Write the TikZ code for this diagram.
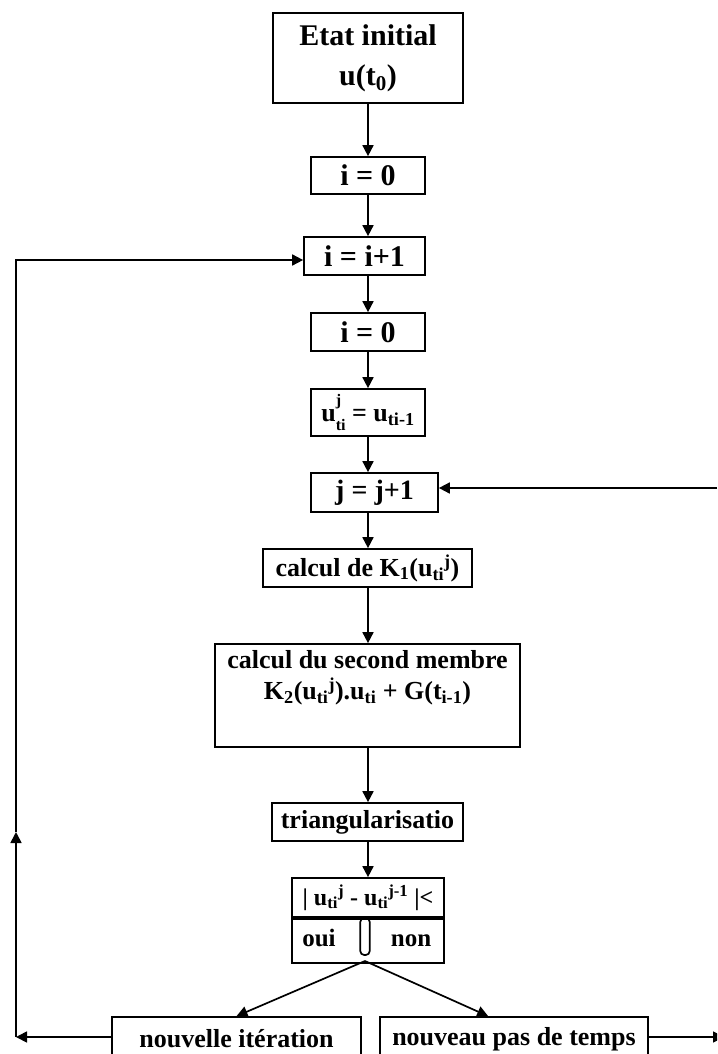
\documentclass[tikz,border=0pt]{standalone}
\usepackage{fontspec}
\setmainfont{Liberation Serif}
\usetikzlibrary{arrows.meta}
\newcommand{\stackscr}[2]{\rlap{\raisebox{0.62em}{\scalebox{0.62}{#1}}}\raisebox{-0.32em}{\scalebox{0.62}{#2}}}

\begin{document}
\begin{tikzpicture}[x=1pt, y=-1pt, line width=1.7pt,
  box/.style={draw, align=center, inner sep=2pt, font=\fontsize{26}{31}\selectfont\bfseries},
  big/.style={font=\fontsize{30}{40}\selectfont\bfseries},
  arr/.style={-{Triangle[length=11pt,width=11pt]}}]
  \useasboundingbox (0,0) rectangle (717,1054);
  % main column
  \node[box, big, minimum width=190, minimum height=90] (etat) at (368,58) {Etat initial\\u(t\textsubscript{0})};
  \node[box, big, minimum width=114, minimum height=37] (izero) at (368,175.5) {i = 0};
  \node[box, big, minimum width=121, minimum height=38] (iinc) at (364.5,256) {i = i+1};
  \node[box, big, minimum width=114, minimum height=38] (jzero) at (368,332) {i = 0};
  \node[box, minimum width=114, minimum height=47] (uinit) at (368,412.5) {u\stackscr{j}{ti} = u\textsubscript{ti-1}};
  \node[box, font=\fontsize{28}{34}\selectfont\bfseries, minimum width=127, minimum height=39] (jinc) at (374.5,492.5) {j = j+1};
  \node[box, minimum width=209, minimum height=38] (kone) at (367.5,568) {calcul de K\textsubscript{1}(u\textsubscript{ti}\textsuperscript{j})};
  \node[box, minimum width=305, minimum height=103] (membre) at (367.5,695.5) {};
  \node[align=center, font=\fontsize{26}{31}\selectfont\bfseries, anchor=north, inner sep=0pt] (membretxt) at (367.5,650)
    {calcul du second membre\\K\textsubscript{2}(u\textsubscript{ti}\textsuperscript{j}).u\textsubscript{ti} + G(t\textsubscript{i-1})};
  \node[box, minimum width=191, minimum height=38] (triang) at (367.5,822) {triangularisatio};
  % test box
  \node[box, font=\fontsize{24}{29}\selectfont\bfseries, minimum width=152, minimum height=39] (dtop) at (368,897.5)
    {| u\textsubscript{ti}\textsuperscript{j} - u\textsubscript{ti}\textsuperscript{j-1} |<};
  \node[box, minimum width=152, minimum height=44, anchor=north] (dbot) at (dtop.south) {};
  \node[font=\fontsize{25}{30}\selectfont\bfseries, anchor=base] (oui) at (319,946) {oui};
  \node[font=\fontsize{25}{30}\selectfont\bfseries, anchor=base] (non) at (411,946) {non};
  \node[draw, rounded corners=4pt, minimum width=9.5, minimum height=37, inner sep=0pt] (pill) at (365,936.5) {};
  \coordinate (fork) at (365,961);
  % bottom boxes
  \begin{scope}
    \clip (0,0) rectangle (717,1054);
    \node[box, minimum width=249, minimum height=44] (nouvelle) at (236.5,1039) {nouvelle itération};
    \node[box, minimum width=268, minimum height=44] (nouveau) at (514,1039) {nouveau pas de temps};
    \draw[arr] (nouveau.east |- 0,1037) -- (724,1037);
  \end{scope}
  % vertical arrows
  \draw[arr] (etat.south) -- (izero.north);
  \draw[arr] (izero.south) -- (izero.south |- iinc.north);
  \draw[arr] (iinc.south -| izero.south) -- (jzero.north);
  \draw[arr] (jzero.south) -- (uinit.north);
  \draw[arr] (uinit.south) -- (uinit.south |- jinc.north);
  \draw[arr] (uinit.south |- jinc.south) -- (uinit.south |- kone.north);
  \draw[arr] (uinit.south |- kone.south) -- (uinit.south |- membre.north);
  \draw[arr] (uinit.south |- membre.south) -- (uinit.south |- triang.north);
  \draw[arr] (uinit.south |- triang.south) -- (uinit.south |- dtop.north);
  % branches
  \draw[arr] (fork) -- (nouvelle.north);
  \draw[arr] (fork) -- ([xshift=109pt]nouveau.north west);
  % loop back to i
  \coordinate (cbl) at (16,1037);
  \coordinate (cmid) at (16,832);
  \coordinate (ctl) at (16,260);
  \draw[arr] (nouvelle.west |- cbl) -- (cbl);
  \draw[arr] (cbl) -- (cmid);
  \draw[arr] (cmid) -- (ctl) -- (ctl -| iinc.west);
  % loop back to j
  \coordinate (crt) at (717,488);
  \draw[arr] (crt) -- (crt -| jinc.east);
\end{tikzpicture}
\end{document}
